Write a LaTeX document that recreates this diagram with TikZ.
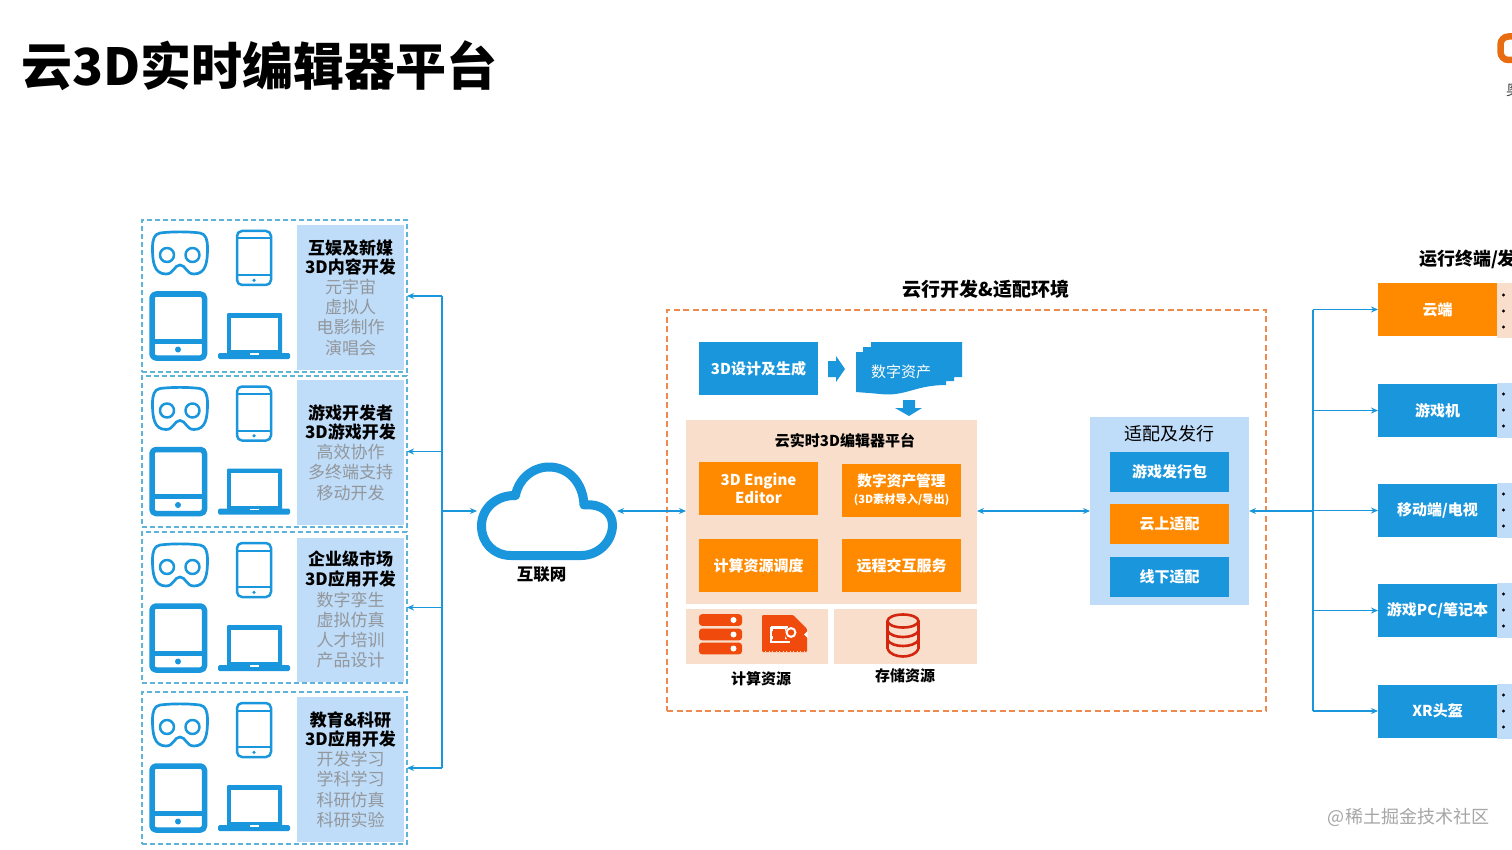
\documentclass[tikz,border=0pt]{standalone}
\usepackage{fontspec}
\setmainfont{Noto Sans CJK SC}
\usetikzlibrary{arrows.meta}
\definecolor{bluemain}{HTML}{1A96DC}
\definecolor{orangemain}{HTML}{FF8A00}
\definecolor{peach}{HTML}{F9DFCB}
\definecolor{lightblue}{HTML}{BFDCF8}
\definecolor{dashblue}{HTML}{5DB4D8}
\definecolor{dashorange}{HTML}{EE8A50}
\definecolor{greytext}{HTML}{92979C}
\definecolor{resred}{HTML}{F04A0C}
\definecolor{stored}{HTML}{D4260F}
\definecolor{logoorange}{HTML}{E86C12}
\tikzset{
  x=1pt,y=-1pt,
  flat/.style={inner sep=0pt,outer sep=0pt,align=center},
  bluebox/.style={flat,fill=bluemain,text=white,font=\fontsize{15}{18}\selectfont\bfseries},
  orangebox/.style={flat,fill=orangemain,text=white,font=\fontsize{15}{18}\selectfont\bfseries},
  peachbox/.style={flat,fill=peach},
  lbbox/.style={flat,fill=lightblue},
  groupbox/.style={flat,draw=dashblue,dash pattern=on 5pt off 3pt,line width=1.2pt},
  envbox/.style={flat,draw=dashorange,dash pattern=on 6pt off 3.5pt,line width=1.3pt},
  paneltext/.style={flat,fill=lightblue,font=\fontsize{17}{20.2}\selectfont},
  label/.style={flat,font=\fontsize{15}{18}\selectfont\bfseries},
  bus/.style={draw=bluemain,line width=1.6pt},
  arr/.style={bus,-{Stealth[length=7pt,width=6pt]}},
  darr/.style={bus,{Stealth[length=7pt,width=6pt]}-{Stealth[length=7pt,width=6pt]}},
  iconline/.style={draw=bluemain,line join=round,fill=none}
}
\newcommand{\bx}[7]{\node[#6,minimum width=#4pt,minimum height=#5pt] (#1) at (#2,#3) {#7};}
\newcommand{\devices}[1]{%
\begin{scope}[shift={(0,#1)}]
  % VR
  \draw[iconline,line width=2.7pt] (160,233) .. controls (172,231.5) and (188,231.5) .. (200,233)
     .. controls (206,234) and (207.5,240) .. (207.5,248) .. controls (207.5,262) and (206,274) .. (194,274)
     .. controls (186,274) and (186,265) .. (180,265) .. controls (174,265) and (174,274) .. (166,274)
     .. controls (154,274) and (152.5,262) .. (152.5,248) .. controls (152.5,240) and (154,234) .. (160,233) -- cycle;
  \draw[iconline,line width=2.5pt] (167,255) circle (7);
  \draw[iconline,line width=2.5pt] (192.5,255) circle (7);
  % phone
  \draw[iconline,line width=2.5pt,rounded corners=5pt] (237,231) rectangle (271,285);
  \draw[iconline,line width=2pt] (237,238.5) -- (271,238.5) (237,275) -- (271,275);
  \fill[bluemain] (254,280.3) circle (1.8);
  % tablet
  \draw[iconline,line width=5.5pt,rounded corners=4pt] (152,294) rectangle (204.5,358);
  \draw[iconline,line width=5pt] (152,341) -- (204.5,341);
  \fill[bluemain] (178,349.5) circle (3);
  % laptop
  \fill[bluemain,rounded corners=1pt] (227,313) rectangle (282,354);
  \fill[white] (231,317.5) rectangle (278,350);
  \fill[bluemain,rounded corners=1.5pt] (218,353) rectangle (290,359);
  \fill[white] (250,353.4) rectangle (259,354.6);
\end{scope}}
\begin{document}
\begin{tikzpicture}
\clip (0,0) rectangle (1512,850);
\fill[white] (0,0) rectangle (1512,850);

% title
\node[flat,anchor=west,font=\fontsize{51}{60}\selectfont\bfseries] (title) at (21.5,66) {云3D实时编辑器平台};

% logo fragment
\draw[draw=logoorange,line width=6.5pt,rounded corners=8pt] (1530,36.5) -- (1500.5,36.5) -- (1500.5,60) -- (1530,60);
\node[flat,anchor=west,font=\fontsize{15}{18}\selectfont,text=black!75] (logotext) at (1506,90) {奥};

% left groups
\bx{g1}{274.5}{296}{265}{152}{groupbox}{}
\bx{g2}{274.5}{451.5}{265}{151}{groupbox}{}
\bx{g3}{274.5}{607.5}{265}{151}{groupbox}{}
\bx{g4}{274.5}{768}{265}{152}{groupbox}{}
\bx{p1}{350.5}{297.5}{107}{145}{paneltext}{\raisebox{-1pt}{\textbf{互娱及新媒}}\\\textbf{3D内容开发}\\\textcolor{greytext}{元宇宙}\\\textcolor{greytext}{虚拟人}\\\textcolor{greytext}{电影制作}\\\textcolor{greytext}{演唱会}}
\bx{p2}{350.5}{452.5}{107}{145}{paneltext}{\raisebox{-1pt}{\textbf{游戏开发者}}\\\textbf{3D游戏开发}\\\textcolor{greytext}{高效协作}\\\textcolor{greytext}{多终端支持}\\\textcolor{greytext}{移动开发}}
\bx{p3}{350.5}{609.5}{107}{144}{paneltext}{\textbf{企业级市场}\\\textbf{3D应用开发}\\\textcolor{greytext}{数字孪生}\\\textcolor{greytext}{虚拟仿真}\\\textcolor{greytext}{人才培训}\\\textcolor{greytext}{产品设计}}
\bx{p4}{350.5}{769.5}{107}{145}{paneltext}{\raisebox{-1pt}{\textbf{教育\&科研}}\\\textbf{3D应用开发}\\\textcolor{greytext}{开发学习}\\\textcolor{greytext}{学科学习}\\\textcolor{greytext}{科研仿真}\\\textcolor{greytext}{科研实验}}
\devices{0}
\devices{155.5}
\devices{312}
\devices{472}

% cloud
\node[flat,minimum width=140pt,minimum height=98pt] (cloud) at (547,511) {};
\draw[bluemain,line width=9pt,line join=round] (511,555.5) -- (581,555.5)
  .. controls (599,555.5) and (612.5,541) .. (612.5,525)
  .. controls (612.5,512) and (600,503) .. (584,505)
  .. controls (583,482) and (568,467) .. (549,467)
  .. controls (532,467) and (518,480) .. (515.5,495.5)
  .. controls (497,495) and (481.5,508) .. (481.5,526)
  .. controls (481.5,543) and (494,555.5) .. (511,555.5) -- cycle;
\node[flat,font=\fontsize{16.5}{18}\selectfont\bfseries] (net) at (541.5,574) {互联网};

% environment
\bx{env}{966.5}{510.5}{599}{401}{envbox}{}
\node[flat,font=\fontsize{19}{22}\selectfont\bfseries] (envt) at (986,289) {云行开发\&适配环境};

\bx{design}{758.5}{368.5}{119}{53}{bluebox}{3D设计及生成}
\fill[bluemain] (828,361) -- (836,361) -- (836,356) -- (845,369) -- (836,382) -- (836,377) -- (828,377) -- cycle;
\fill[bluemain] (856,352) -- (863,352) -- (863,347) -- (871,347) -- (871,342) -- (962,342) -- (962,377) -- (954,377) -- (954,381) -- (946,381) -- (946,385)
  .. controls (915,385) and (905,397) .. (880,394) .. controls (870,393) and (862,392.5) .. (856,392) -- cycle;
\node[flat,text=white,font=\fontsize{15}{18}\selectfont] (asset) at (901,372) {数字资产};
\fill[bluemain] (903,400) -- (915,400) -- (915,408) -- (922,408) -- (909,416) -- (895,408) -- (903,408) -- cycle;

\bx{platform}{831.5}{512}{291}{184}{peachbox}{}
\node[label] (platt) at (845,441) {云实时3D编辑器平台};
\bx{engine}{758.5}{488.5}{119}{53}{orangebox}{\fontsize{15}{17}\selectfont 3D Engine\\Editor}
\bx{assetm}{901.5}{490}{119}{53}{orangebox}{\fontsize{14.7}{15}\selectfont 数字资产管理\\[-1.5pt]\fontsize{11.2}{12}\selectfont (3D素材导入/导出)}
\bx{sched}{758.5}{565.5}{119}{53}{orangebox}{计算资源调度}
\bx{remote}{901.5}{565.5}{119}{53}{orangebox}{远程交互服务}

\bx{comp}{757}{636.5}{142}{55}{peachbox}{}
\bx{stor}{905.5}{636.5}{143}{55}{peachbox}{}
\node[label] (compt) at (761,678.5) {计算资源};
\node[label] (stort) at (905,675.5) {存储资源};
% server icon
\foreach \yy in {620,634.5,648.5}{
  \fill[resred,rounded corners=3pt] (699,\yy-5.8) rectangle (742,\yy+5.8);
  \fill[white] (733.5,\yy) circle (3);
}
% chip icon
\fill[resred,rounded corners=1pt] (762,615) -- (793,615) -- (807,629) -- (807,652) -- (762,652) -- cycle;
\fill[white] (771,628) -- (787,628) .. controls (784,632) and (784,637) .. (787,639) -- (771,639) -- (771,636) -- (783,636) -- (783,631) -- (771,631) -- cycle;
\draw[white,line width=2.3pt] (771,627) -- (771,642) -- (790,642);
\draw[white,line width=2.3pt] (771,627) -- (788,627);
\fill[resred] (772.5,628.5) rectangle (785,640.5);
\fill[white] (791,632.5) circle (5.5);
\fill[resred] (791,632.5) circle (3.2);
\fill[white] (807.5,631) -- (804,634.5) -- (807.5,638) -- cycle;
\foreach \xx in {765,768.5,...,805}{\fill[peach] (\xx,650.6) rectangle (\xx+1.2,652.2);}
% storage icon
\draw[stored,line width=2.6pt,fill=none] (887.5,621) -- (887.5,649) (918.5,621) -- (918.5,649);
\draw[stored,line width=2.6pt] (903,621) ellipse (15.5 and 6.5);
\draw[stored,line width=2.6pt] (887.5,631) .. controls (892,639) and (914,639) .. (918.5,631);
\draw[stored,line width=2.6pt] (887.5,640) .. controls (892,648) and (914,648) .. (918.5,640);
\draw[stored,line width=2.6pt] (887.5,649) .. controls (892,659) and (914,659) .. (918.5,649);

% adaptation
\bx{adapt}{1169.5}{511}{159}{188}{lbbox}{}
\node[flat,font=\fontsize{18}{22}\selectfont] (adaptt) at (1169,434) {适配及发行};
\bx{pack}{1169.5}{471.7}{119}{40}{bluebox}{游戏发行包}
\bx{cloudfit}{1169.5}{523.5}{119}{40}{orangebox}{云上适配}
\bx{offfit}{1169.5}{576.7}{119}{40}{bluebox}{线下适配}

% terminals
\node[flat,anchor=west,font=\fontsize{18}{22}\selectfont\bfseries] (termt) at (1419,259.5) {运行终端/发};
\bx{t1}{1437.5}{309.5}{119}{53}{orangebox}{云端}
\bx{t2}{1437.5}{410.5}{119}{53}{bluebox}{游戏机}
\bx{t3}{1437.5}{510.5}{119}{53}{bluebox}{移动端/电视}
\bx{t4}{1437.5}{610.5}{119}{53}{bluebox}{游戏PC/笔记本}
\bx{t5}{1437.5}{711}{119}{53}{bluebox}{XR头盔}
\fill[peach] (1497,283) rectangle (1512,338);
\fill[lightblue] (1497,383) rectangle (1512,438);
\fill[lightblue] (1497,483) rectangle (1512,538);
\fill[lightblue] (1497,583) rectangle (1512,638);
\fill[lightblue] (1497,684) rectangle (1512,739);
\foreach \cy in {311,410,510,610,711}{
  \foreach \dd in {-16,0,16}{\fill[black] (1503.5,\cy+\dd) circle (1.6);}
}

% connectors
\coordinate (busL) at (442,511);
\coordinate (busR) at (1313,511);
\draw[bus] (busL |- g1.east) -- (busL |- g4.east);
\draw[arr] (busL |- g1.east) -- (g1.east);
\draw[arr] (busL |- g2.east) -- (g2.east);
\draw[arr] (busL |- g3.east) -- (g3.east);
\draw[arr] (busL |- g4.east) -- (g4.east);
\draw[arr] (busL) -- (cloud.west |- busL);
\draw[darr] (cloud.east |- busL) -- (platform.west |- busL);
\draw[darr] (platform.east |- busL) -- (adapt.west |- busL);
\draw[arr] (busR) -- (adapt.east |- busR);
\draw[bus] (busR |- t1.west) -- (busR |- t5.west);
\draw[arr] (busR |- t1.west) -- (t1.west);
\draw[arr] (busR |- t2.west) -- (t2.west);
\draw[arr] (busR |- t3.west) -- (t3.west);
\draw[arr] (busR |- t4.west) -- (t4.west);
\draw[arr] (busR |- t5.west) -- (t5.west);

% watermark
\node[flat,anchor=east,text=black!35,font=\fontsize{18}{20}\selectfont] (wm) at (1489,817) {@稀土掘金技术社区};
\end{tikzpicture}
\end{document}
